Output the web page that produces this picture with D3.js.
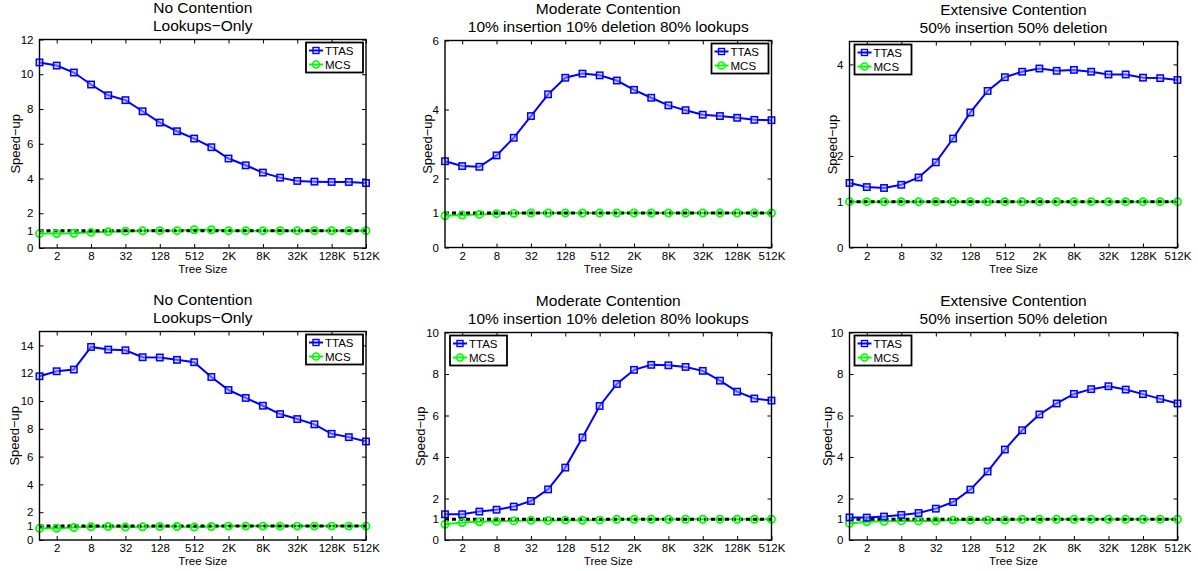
<!DOCTYPE html>
<html>
<head>
<meta charset="utf-8">
<script src="https://cdn.jsdelivr.net/npm/d3@7"></script>
<style>
  body { margin: 0; background: #fff; }
  text { font-family: "Liberation Sans", Arial, sans-serif; fill: #000; }
</style>
</head>
<body>
<script>
// tree sizes on the x axis (2^0 .. 2^19)
var treeSizes = ["1","2","4","8","16","32","64","128","256","512",
                 "1K","2K","4K","8K","16K","32K","64K","128K","256K","512K"];
var xTickLabels = ["2","8","32","128","512","2K","8K","32K","128K","512K"];

// top row
var ttasNoCont1  = [10.68,10.50,10.10,9.41,8.79,8.51,7.87,7.22,6.72,6.30,5.80,5.15,4.76,4.34,4.05,3.86,3.82,3.80,3.80,3.74];
var mcsNoCont1   = [0.83,0.83,0.85,0.90,0.94,0.97,0.99,1.00,1.00,1.05,1.05,1.00,1.00,1.00,1.00,1.00,1.00,1.00,1.00,1.00];
var ttasModCont1 = [2.50,2.36,2.34,2.67,3.18,3.81,4.44,4.92,5.04,4.99,4.84,4.57,4.34,4.12,3.98,3.85,3.81,3.76,3.70,3.69];
var mcsModCont1  = [0.92,0.94,0.96,0.98,0.99,1.00,1.00,1.00,1.00,1.00,1.00,1.00,1.00,1.00,1.00,1.00,1.00,1.00,1.00,1.00];
var ttasExtCont1 = [1.41,1.32,1.30,1.37,1.53,1.86,2.38,2.95,3.42,3.72,3.84,3.91,3.86,3.88,3.84,3.78,3.78,3.71,3.70,3.66];
var mcsExtCont1  = [1.00,1.00,1.00,1.00,1.00,1.00,1.00,1.00,1.00,1.00,1.00,1.00,1.00,1.00,1.00,1.00,1.00,1.00,1.00,1.00];

// bottom row
var ttasNoCont2  = [11.78,12.14,12.26,13.89,13.70,13.65,13.15,13.13,12.96,12.79,11.73,10.79,10.22,9.66,9.06,8.70,8.32,7.64,7.40,7.09];
var mcsNoCont2   = [0.84,0.84,0.90,0.95,0.97,0.93,0.95,0.97,0.97,0.93,0.97,1.00,1.00,1.00,1.00,1.00,1.00,1.00,1.00,1.00];
var ttasModCont2 = [1.24,1.24,1.37,1.46,1.61,1.88,2.44,3.49,4.94,6.46,7.52,8.20,8.44,8.42,8.34,8.15,7.68,7.15,6.82,6.72];
var mcsModCont2  = [0.76,0.84,0.88,0.90,0.92,0.95,0.93,0.96,0.95,0.96,1.00,1.00,1.00,1.00,1.00,1.00,1.00,1.00,1.00,1.00];
var ttasExtCont2 = [1.09,1.08,1.13,1.21,1.30,1.51,1.83,2.43,3.30,4.36,5.29,6.05,6.58,7.04,7.27,7.41,7.25,7.03,6.80,6.58];
var mcsExtCont2  = [0.80,0.88,0.90,0.92,0.92,0.92,0.96,0.96,0.96,0.96,1.00,1.00,1.00,1.00,1.00,1.00,1.00,1.00,1.00,1.00];

var titleNo  = ["No Contention", "Lookups\u2212Only"];
var titleMod = ["Moderate Contention", "10% insertion 10% deletion 80% lookups"];
var titleExt = ["Extensive Contention", "50% insertion 50% deletion"];

var yTicks12 = [0,1,2,4,6,8,10,12];
var yTicks6  = [0,1,2,4,6];
var yTicks4  = [0,1,2,4];
var yTicks14 = [0,1,2,4,6,8,10,12,14];
var yTicks10 = [0,1,2,4,6,8,10];

var w = 1198, h = 571;

// panel layout
var panels = [
  {x0: 39.5, x1: 366, y0: 39.5, y1: 248, ymax: 12, ticks: yTicks12, title: titleNo,  ttas: ttasNoCont1,  mcs: mcsNoCont1,  legend: "right", ylx: 15},
  {x0: 445,  x1: 771.5, y0: 40.5, y1: 247.5, ymax: 6, ticks: yTicks6, title: titleMod, ttas: ttasModCont1, mcs: mcsModCont1, legend: "right", ylx: 427},
  {x0: 849.5, x1: 1177.5, y0: 41.5, y1: 247.5, ymax: 4.5, ticks: yTicks4, title: titleExt, ttas: ttasExtCont1, mcs: mcsExtCont1, legend: "left", ylx: 832},
  {x0: 39.5, x1: 366, y0: 331.5, y1: 540, ymax: 15, ticks: yTicks14, title: titleNo,  ttas: ttasNoCont2,  mcs: mcsNoCont2,  legend: "right", ylx: 14},
  {x0: 445,  x1: 771.5, y0: 332.5, y1: 540, ymax: 10, ticks: yTicks10, title: titleMod, ttas: ttasModCont2, mcs: mcsModCont2, legend: "left", ylx: 420},
  {x0: 849.5, x1: 1177.5, y0: 332.5, y1: 540, ymax: 10, ticks: yTicks10, title: titleExt, ttas: ttasExtCont2, mcs: mcsExtCont2, legend: "left", ylx: 827}
];

var svg = d3.select("body")
            .append("svg")
            .attr("width", w)
            .attr("height", h);

panels.forEach(function(p) {
    var x = d3.scalePoint().domain(treeSizes).range([p.x0, p.x1]).padding(0);
    var y = d3.scaleLinear().domain([0, p.ymax]).range([p.y1, p.y0]);
    var g = svg.append("g");

    // title
    var cx = (p.x0 + p.x1) / 2;
    g.append("text").attr("x", cx).attr("y", p.y0 - 27).attr("text-anchor", "middle")
        .attr("font-size", "15.5px").text(p.title[0]);
    g.append("text").attr("x", cx).attr("y", p.y0 - 9).attr("text-anchor", "middle")
        .attr("font-size", "15.5px").text(p.title[1]);

    // axes with inward ticks on all four sides
    var bottom = g.append("g").attr("transform", "translate(0," + p.y1 + ")")
        .call(d3.axisBottom(x).tickValues(xTickLabels).tickSizeInner(-4).tickSizeOuter(0).tickPadding(4));
    var top = g.append("g").attr("transform", "translate(0," + p.y0 + ")")
        .call(d3.axisTop(x).tickValues(xTickLabels).tickSizeInner(-4).tickSizeOuter(0).tickFormat(""));
    var left = g.append("g").attr("transform", "translate(" + p.x0 + ",0)")
        .call(d3.axisLeft(y).tickValues(p.ticks).tickSizeInner(-4).tickSizeOuter(0).tickPadding(6)
              .tickFormat(d3.format("d")));
    var right = g.append("g").attr("transform", "translate(" + p.x1 + ",0)")
        .call(d3.axisRight(y).tickValues(p.ticks).tickSizeInner(-4).tickSizeOuter(0).tickFormat(""));

    [bottom, top, left, right].forEach(function(a) {
        a.select(".domain").remove();
        a.selectAll("line").attr("stroke", "#000");
        a.selectAll("text").attr("font-size", "11.5px").attr("font-family", "Liberation Sans, Arial, sans-serif").attr("fill", "#000");
    });

    var line = d3.line()
        .x(function(d, i) { return x(treeSizes[i]); })
        .y(function(d) { return y(d); });

    // MCS line
    g.append("path").datum(p.mcs).attr("d", line)
        .attr("fill", "none").attr("stroke", "#00ff00").attr("stroke-width", 2);

    // dotted reference line at speed-up 1
    g.append("line")
        .attr("x1", p.x0).attr("x2", p.x1)
        .attr("y1", y(1)).attr("y2", y(1))
        .attr("stroke", "#000").attr("stroke-width", 3)
        .attr("stroke-dasharray", "4,3");

    g.selectAll("circle.mcs").data(p.mcs).enter().append("circle")
        .attr("class", "mcs")
        .attr("cx", function(d, i) { return x(treeSizes[i]); })
        .attr("cy", function(d) { return y(d); })
        .attr("r", 3.6)
        .attr("fill", "none").attr("stroke", "#00ff00").attr("stroke-width", 1.7);

    // TTAS
    g.append("path").datum(p.ttas).attr("d", line)
        .attr("fill", "none").attr("stroke", "#0000ff").attr("stroke-width", 2);
    g.selectAll("rect.ttas").data(p.ttas).enter().append("rect")
        .attr("class", "ttas")
        .attr("x", function(d, i) { return x(treeSizes[i]) - 3.2; })
        .attr("y", function(d) { return y(d) - 3.2; })
        .attr("width", 6.4).attr("height", 6.4)
        .attr("fill", "#aab0ff").attr("fill-opacity", 0.5)
        .attr("stroke", "#0000ff").attr("stroke-width", 1.5);

    // box
    g.append("rect")
        .attr("x", p.x0).attr("y", p.y0)
        .attr("width", p.x1 - p.x0).attr("height", p.y1 - p.y0)
        .attr("fill", "none").attr("stroke", "#000").attr("stroke-width", 1.4);

    // axis labels
    g.append("text").attr("x", cx).attr("y", p.y1 + 25).attr("text-anchor", "middle")
        .attr("font-size", "11.5px").text("Tree Size");
    g.append("text")
        .attr("transform", "translate(" + (p.ylx + 4.5) + "," + ((p.y0 + p.y1) / 2) + ") rotate(-90)")
        .attr("text-anchor", "middle").attr("font-size", "13px").text("Speed\u2212up");

    // legend
    var lw = 57, lh = 30;
    var lx = p.legend === "right" ? p.x1 - lw - 3 : p.x0 + 5;
    var ly = p.y0 + 3;
    var lg = g.append("g").attr("transform", "translate(" + lx + "," + ly + ")");
    lg.append("rect").attr("width", lw).attr("height", lh)
        .attr("fill", "#fff").attr("stroke", "#000").attr("stroke-width", 1.8);
    [{name: "TTAS", color: "#0000ff", shape: "square"}, {name: "MCS", color: "#00ff00", shape: "circle"}]
      .forEach(function(s, i) {
        var yy = 8 + i * 14;
        lg.append("line").attr("x1", 3).attr("x2", 17).attr("y1", yy).attr("y2", yy)
            .attr("stroke", s.color).attr("stroke-width", 2);
        if (s.shape === "square") {
            lg.append("rect").attr("x", 7).attr("y", yy - 3).attr("width", 6).attr("height", 6)
                .attr("fill", "none").attr("stroke", s.color).attr("stroke-width", 1.4);
        } else {
            lg.append("circle").attr("cx", 10).attr("cy", yy).attr("r", 3.5)
                .attr("fill", "none").attr("stroke", s.color).attr("stroke-width", 1.6);
        }
        lg.append("text").attr("x", 19).attr("y", yy + 4).attr("font-size", "11.5px").text(s.name);
      });
});
</script>
</body>
</html>
